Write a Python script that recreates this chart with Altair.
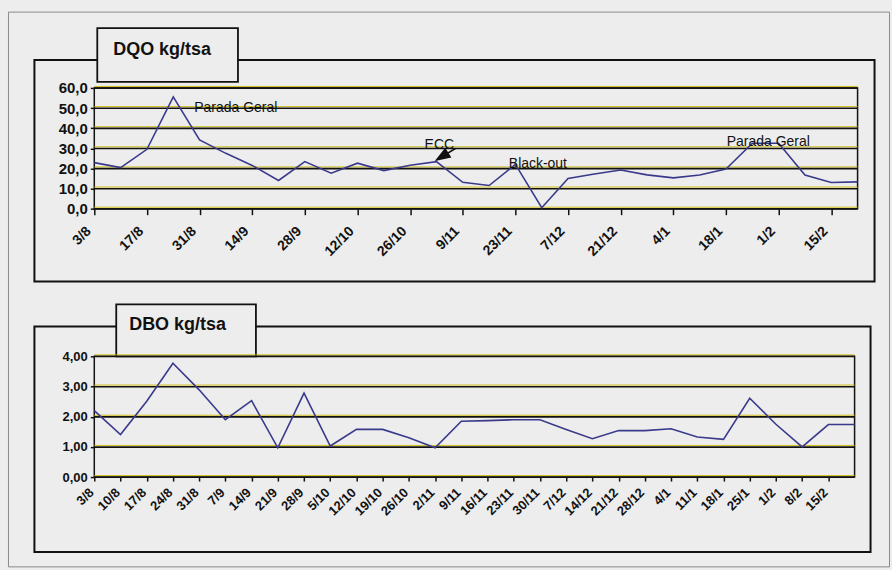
import json
import altair as alt
import pandas as pd

# ---- data ----
dates = ["3/8", "10/8", "17/8", "24/8", "31/8", "7/9", "14/9", "21/9", "28/9", "5/10",
         "12/10", "19/10", "26/10", "2/11", "9/11", "16/11", "23/11", "30/11", "7/12", "14/12",
         "21/12", "28/12", "4/1", "11/1", "18/1", "25/1", "1/2", "8/2", "15/2", "22/2"]
dqo = [22.9, 20.4, 29.5, 55.6, 34.2, 27.5, 21.5, 14.0, 23.4, 17.6,
       22.6, 18.9, 21.6, 23.4, 13.1, 11.5, 22.0, 0.5, 15.0, 17.2,
       19.2, 16.8, 15.3, 16.7, 19.7, 32.5, 32.5, 16.7, 13.0, 13.3]
dbo = [2.20, 1.41, 2.51, 3.77, 2.89, 1.90, 2.53, 0.97, 2.78, 1.03,
       1.58, 1.58, 1.30, 0.97, 1.85, 1.87, 1.90, 1.90, 1.58, 1.27,
       1.54, 1.54, 1.60, 1.33, 1.25, 2.61, 1.75, 1.00, 1.74, 1.74]
dqo_ticks = [0, 10, 20, 30, 40, 50, 60]
dbo_ticks = [0, 1, 2, 3, 4]
dqo_label_idx = list(range(0, 29, 2))
dbo_label_idx = list(range(0, 29))
titles = ["DQO kg/tsa", "DBO kg/tsa"]
note_text = ["Parada Geral", "ECC", "Black-out", "Parada Geral"]
note_i = [3.8, 12.55, 15.75, 24.03]
note_v = [50.0, 31.8, 22.0, 33.3]
arrow_i = [13.72, 13.03]
arrow_v = [29.9, 24.4]

# ---- styling ----
BG = "#ededed"
INK = "#111111"
YEL = "#cdb800"
LINE = "#3a3a8c"
FONT = "Liberation Sans"

date_expr = json.dumps(dates) + "[datum.value]"
one = pd.DataFrame({"k": [0]})


def xenc(values, font_size, tick_size, pad, offset):
    return alt.X("i:Q", scale=alt.Scale(domain=[0, 29], nice=False, zero=False),
                 axis=alt.Axis(values=values, labelExpr=date_expr, labelAngle=-45,
                               labelAlign="right", labelBaseline="middle",
                               labelFontSize=font_size, labelFontWeight="bold", labelFont=FONT,
                               labelColor=INK, tickColor=INK, tickSize=tick_size, tickWidth=1.5,
                               labelPadding=pad, labelOffset=offset, labelFlush=False,
                               labelOverlap=False, domain=False, grid=False, title=None))


def yenc(ymax, values, fmt, font_size):
    return alt.Y("v:Q", scale=alt.Scale(domain=[0, ymax], nice=False, zero=True),
                 axis=alt.Axis(values=values,
                               labelExpr="replace(format(datum.value, '" + fmt + "'), '.', ',')",
                               labelFontSize=font_size, labelFontWeight="bold", labelFont=FONT,
                               labelColor=INK, tickColor=INK, tickSize=4, tickWidth=1.5,
                               labelPadding=3, domain=False, grid=False, title=None))


def deco(frame, box, title, tx, ty, border=None):
    layers = []
    if border is not None:
        layers.append(alt.Chart(one).mark_rect(fill=None, stroke="#8a8a8a", strokeWidth=1).encode(
            x=alt.value(border[0]), x2=alt.value(border[1]),
            y=alt.value(border[2]), y2=alt.value(border[3])))
    layers.append(alt.Chart(one).mark_rect(fill=None, stroke=INK, strokeWidth=2).encode(
        x=alt.value(frame[0]), x2=alt.value(frame[1]),
        y=alt.value(frame[2]), y2=alt.value(frame[3])))
    layers.append(alt.Chart(one).mark_rect(fill=BG, stroke=INK, strokeWidth=1.8).encode(
        x=alt.value(box[0]), x2=alt.value(box[1]),
        y=alt.value(box[2]), y2=alt.value(box[3])))
    layers.append(alt.Chart(one).mark_text(align="left", baseline="alphabetic", fontSize=18,
                                           fontWeight="bold", font=FONT, color=INK).encode(
        x=alt.value(tx), y=alt.value(ty), text=alt.value(title)))
    return layers


def grid(ticks, ymax, fmt, fs):
    g = alt.Chart(pd.DataFrame({"v": ticks}))
    return [
        g.mark_rule(color=YEL, strokeWidth=0.9, yOffset=-1.5).encode(y=yenc(ymax, ticks, fmt, fs)),
        g.mark_rule(color=INK, strokeWidth=1.6, yOffset=0.2).encode(y=yenc(ymax, ticks, fmt, fs)),
    ]


# ---- top panel ----
top_df = pd.DataFrame({"i": list(range(len(dqo))), "v": dqo})
notes_df = pd.DataFrame({"i": note_i, "v": note_v, "t": note_text})
arrow_df = pd.DataFrame({"i": arrow_i, "v": arrow_v})
xt = xenc(dqo_label_idx, 14, 6, 14, -6)
yt = yenc(60, dqo_ticks, ".1f", 15)

top_layers = deco(frame=(-60, 782, -28, 194), box=(3, 144, -60, -6), title=titles[0],
                  tx=19, ty=-33, border=(-86, 797, -76, 480))
top_layers += grid(dqo_ticks, 60, ".1f", 15)
top_layers += [
    alt.Chart(top_df).mark_line(color=LINE, strokeWidth=1.6).encode(x=xt, y=yt),
    alt.Chart(notes_df).mark_text(align="left", baseline="middle", fontSize=14, font=FONT,
                                  color=INK).encode(x=xt, y=yt, text="t:N"),
    alt.Chart(arrow_df).mark_line(color=INK, strokeWidth=1.5).encode(x=xt, y=yt),
    alt.Chart(arrow_df.iloc[[1]]).mark_point(shape="M0,0L-0.8,2.2L0.8,2.2Z", filled=True,
                                             fill=INK, stroke=INK, opacity=1, size=120,
                                             angle=238).encode(x=xt, y=yt),
]
top = alt.layer(*top_layers).properties(width=765, height=121)

# ---- bottom panel ----
bot_df = pd.DataFrame({"i": list(range(len(dbo))), "v": dbo})
xb = xenc(dbo_label_idx, 13, 4, 9, -3)
yb = yenc(4, dbo_ticks, ".2f", 13)
bot_layers = deco(frame=(-60, 778, -30, 196), box=(22, 162, -52, 0), title=titles[1],
                  tx=35, ty=-26)
bot_layers += grid(dbo_ticks, 4, ".2f", 13)
bot_layers += [alt.Chart(bot_df).mark_line(color=LINE, strokeWidth=1.6).encode(x=xb, y=yb)]
bottom = alt.layer(*bot_layers).properties(width=762, height=121)

chart = alt.vconcat(top, bottom, spacing=148, bounds="flush").properties(
    padding={"left": 6.5, "top": 9.5, "right": 0.5, "bottom": 1},
    background=BG,
).configure_view(stroke=INK, strokeWidth=1.5, fill=BG)

chart.save("out.html", embed_options={"renderer": "svg", "actions": False})
